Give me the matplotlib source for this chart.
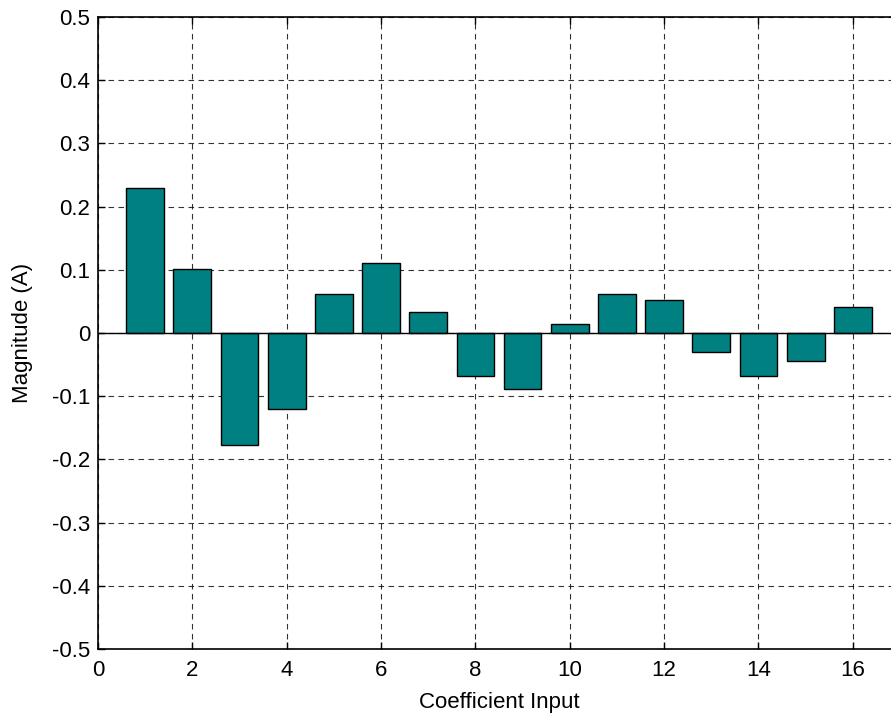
import matplotlib
matplotlib.use("Agg")
import matplotlib.pyplot as plt

plt.rcParams["font.family"] = ["Liberation Sans", "DejaVu Sans"]

# coefficient index and magnitude (A)
coeff = list(range(1, 17))
magnitude = [0.230, 0.102, -0.178, -0.120, 0.061, 0.111, 0.033, -0.068,
             -0.088, 0.015, 0.061, 0.052, -0.030, -0.068, -0.044, 0.041]
xticks = [0, 2, 4, 6, 8, 10, 12, 14, 16]
yticks = [-0.5, -0.4, -0.3, -0.2, -0.1, 0, 0.1, 0.2, 0.3, 0.4, 0.5]
yticklabels = ["-0.5", "-0.4", "-0.3", "-0.2", "-0.1", "0",
               "0.1", "0.2", "0.3", "0.4", "0.5"]

fig = plt.figure(figsize=(8.91, 7.18), dpi=100)
# axes runs slightly past the right edge (cropped like the original)
ax = fig.add_axes([98 / 891, 69 / 718, (900 - 98) / 891, (649 - 17) / 718])

ax.bar(coeff, magnitude, width=0.8, color="#008080", edgecolor="black",
       linewidth=1.0, zorder=3)
ax.axhline(0, color="black", linewidth=1.0, zorder=4)

ax.set_xlim(0, 17)
ax.set_ylim(-0.5, 0.5)
ax.set_xticks(xticks)
ax.set_yticks(yticks)
ax.set_yticklabels(yticklabels)
ax.tick_params(direction="in", length=5, labelsize=16, top=True, right=True,
               width=1.0)
ax.tick_params(axis="x", pad=8)
ax.tick_params(axis="y", pad=5.5)
ax.grid(True, color="black", linestyle=(0, (5, 4)), linewidth=0.8, alpha=0.8,
        zorder=0)
for s in ax.spines.values():
    s.set_linewidth(1.2)

ax.set_xlabel("Coefficient Input", fontsize=16, labelpad=8)
ax.set_ylabel("Magnitude (A)", fontsize=16, labelpad=14)

fig.savefig("out.png", dpi=100)
plt.close(fig)
